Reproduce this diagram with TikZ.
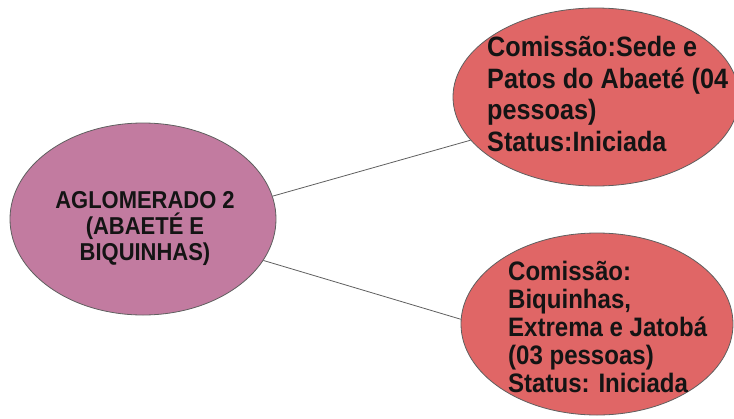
\documentclass[tikz,border=0pt]{standalone}
\usepackage{fontspec}
\setmainfont{Liberation Sans}[FakeStretch=0.9]
\usetikzlibrary{shapes.geometric}

\definecolor{hubfill}{HTML}{C27BA0}
\definecolor{leaffill}{HTML}{E06666}
\definecolor{edgegray}{HTML}{5F5F5F}
\definecolor{inkblack}{HTML}{141414}

\tikzset{
  bubble/.style={ellipse, draw=edgegray, line width=0.8pt, inner sep=0pt},
  hubbubble/.style={bubble, fill=hubfill, minimum width=266pt, minimum height=192pt},
  leafbubble/.style={bubble, fill=leaffill},
  label/.style={inner sep=0pt, text=inkblack, font=\bfseries},
  link/.style={draw=edgegray, line width=0.8pt}
}

\begin{document}
\begin{tikzpicture}[x=1pt, y=-1pt]
  \useasboundingbox (0,0) rectangle (734,418);

  % ellipses
  \node[hubbubble] (hub) at (143,219) {};
  \node[leafbubble, minimum width=286pt, minimum height=178pt] (sede) at (596,97) {};
  \node[leafbubble, minimum width=272pt, minimum height=182pt] (biq) at (597,324) {};

  % texts
  \node[label, align=center, anchor=north,
        font=\bfseries\fontsize{24.4}{26}\selectfont] (hubtxt) at (145,191)
    {AGLOMERADO 2\\(ABAETÉ E\\BIQUINHAS)};
  \node[label, align=left, anchor=north west,
        font=\bfseries\fontsize{28}{31.7}\selectfont] (sedetxt) at (487,36)
    {Comissão:Sede e\\Patos do Abaeté (04\\pessoas)\\Status:Iniciada};
  \node[label, align=left, anchor=north west,
        font=\bfseries\fontsize{26.7}{28}\selectfont] (biqtxt) at (508,261)
    {Comissão:\\Biquinhas,\\Extrema e Jatobá\\(03 pessoas)\\Status: Iniciada};

  % connectors
  \draw[link] (hub.10) -- (sede.199);
  \draw[link] (hub.-19) -- (biq.178);
\end{tikzpicture}
\end{document}
